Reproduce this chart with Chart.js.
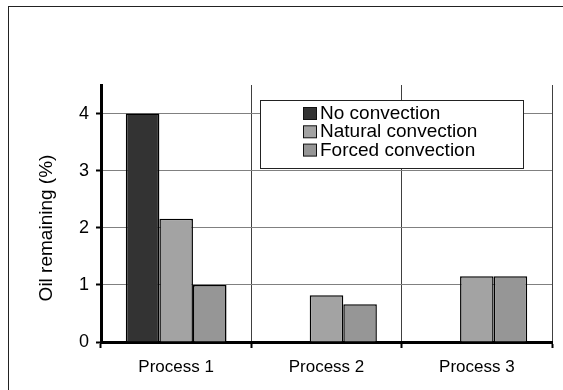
<!DOCTYPE html>
<html>
<head>
<meta charset="utf-8">
<script src="https://cdn.jsdelivr.net/npm/chart.js@4"></script>
<style>
  html, body { margin: 0; padding: 0; background: #fff; overflow: hidden; }
  #wrap { position: relative; width: 563px; height: 390px; }
  #frame { position: absolute; left: 8px; top: 6px; width: 600px; height: 500px; border: 1px solid #222; box-sizing: border-box; pointer-events: none; }
  canvas { position: absolute; left: 0; top: 0; }
</style>
</head>
<body>
<div id="wrap">
  <canvas id="chart" width="563" height="390"></canvas>
  <div id="frame"></div>
</div>
<script>
// Categories, series and tick values
const categories = ['Process 1', 'Process 2', 'Process 3'];
const seriesLabels = ['No convection', 'Natural convection', 'Forced convection'];
const noConvection = [4.0, null, null];
const naturalConvection = [2.16, 0.82, 1.15];
const forcedConvection = [1.0, 0.66, 1.15];
const yTicks = [0, 1, 2, 3, 4];
const yAxisTitle = 'Oil remaining (%)';

const FONT = '"Liberation Sans", Arial, sans-serif';

// Boxed legend drawn over the plot area, plus the rotated y-axis title
const boxLegend = {
  id: 'boxLegend',
  afterDatasetsDraw(chart) {
    const ctx = chart.ctx;
    ctx.save();
    const bx = 260.5, by = 100.5, bw = 263, bh = 68;
    ctx.fillStyle = '#fff';
    ctx.fillRect(bx, by, bw, bh);
    ctx.strokeStyle = '#222';
    ctx.lineWidth = 1;
    ctx.strokeRect(bx, by, bw, bh);
    ctx.font = '19px ' + FONT;
    ctx.textBaseline = 'alphabetic';
    ctx.textAlign = 'left';
    chart.data.datasets.forEach((ds, i) => {
      const base = 119 + i * 18.3;
      ctx.fillStyle = ds.backgroundColor;
      ctx.fillRect(303.5, base - 11.5, 13, 12);
      ctx.strokeStyle = '#111';
      ctx.strokeRect(303.5, base - 11.5, 13, 12);
      ctx.fillStyle = '#000';
      ctx.fillText(ds.label, 320, base);
    });
    ctx.restore();
  },
  afterDraw(chart) {
    const ctx = chart.ctx;
    ctx.save();
    ctx.translate(47, 228);
    ctx.rotate(-Math.PI / 2);
    ctx.font = '19px ' + FONT;
    ctx.fillStyle = '#000';
    ctx.textAlign = 'center';
    ctx.textBaseline = 'middle';
    ctx.fillText(yAxisTitle, 0, 0);
    ctx.restore();
  }
};

new Chart(document.getElementById('chart'), {
  type: 'bar',
  data: {
    labels: categories,
    datasets: [
      { label: seriesLabels[0], data: noConvection, backgroundColor: '#333333' },
      { label: seriesLabels[1], data: naturalConvection, backgroundColor: '#a3a3a3' },
      { label: seriesLabels[2], data: forcedConvection, backgroundColor: '#969696' }
    ]
  },
  options: {
    responsive: false,
    animation: false,
    devicePixelRatio: 1,
    layout: { padding: { left: 0, top: 85, right: 11, bottom: 0 } },
    datasets: {
      bar: {
        borderColor: '#000',
        borderWidth: 1.5,
        categoryPercentage: 0.67,
        barPercentage: 1.0
      }
    },
    plugins: {
      legend: { display: false },
      tooltip: { enabled: false },
      title: { display: false }
    },
    scales: {
      x: {
        afterFit(scale) { scale.height = 48; },
        grid: {
          offset: true,
          color: '#404040',
          lineWidth: 1,
          tickColor: '#000',
          tickWidth: 2,
          tickLength: 6
        },
        border: { color: '#000', width: 3 },
        ticks: {
          color: '#000',
          font: { family: FONT, size: 17 },
          padding: 9,
          maxRotation: 0
        }
      },
      y: {
        min: 0,
        max: 4.5,
        afterFit(scale) { scale.width = 101; },
        afterBuildTicks(scale) { scale.ticks = yTicks.map(v => ({ value: v })); },
        grid: {
          color: '#808080',
          lineWidth: 1,
          tickColor: '#000',
          tickWidth: 2,
          tickLength: 5
        },
        border: { color: '#000', width: 3 },
        ticks: {
          color: '#000',
          font: { family: FONT, size: 18 },
          padding: 7
        }
      }
    }
  },
  plugins: [boxLegend]
});
</script>
</body>
</html>
